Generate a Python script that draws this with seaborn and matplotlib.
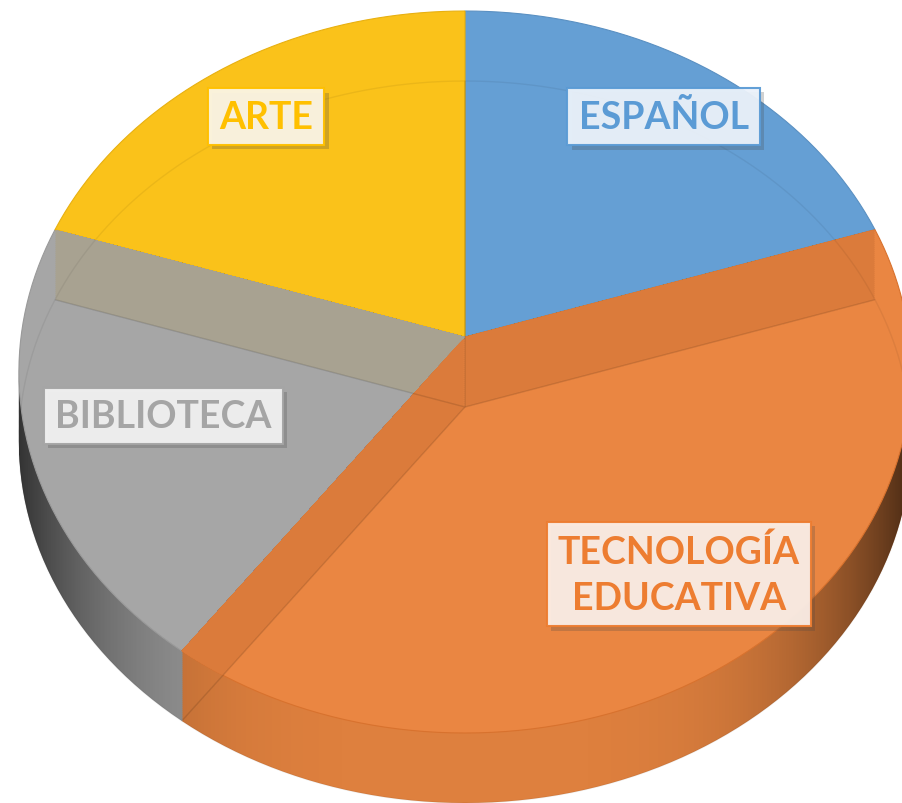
import numpy as np
import matplotlib
matplotlib.use("Agg")
import matplotlib.pyplot as plt
import matplotlib.transforms as mtransforms
import matplotlib.patheffects as pe
from matplotlib.path import Path
import seaborn as sns

# data, clockwise from 12 o'clock
subjects = ["ESPAÑOL", "TECNOLOGÍA\nEDUCATIVA", "BIBLIOTECA", "ARTE"]
shares = [20, 40, 20, 20]

# styling
top_colors = ["#659FD4", "#EA8642", "#A6A6A6", "#FAC21A"]
edge_colors = ["#5A90C2", "#D8722E", "#9A9A9A", "#E8B010"]
side_colors = ["#4F82B5", "#DE803E", "#9C9C9C", "#D8A414"]
text_colors = ["#5B9BD5", "#ED7D31", "#A5A5A5", "#FFC000"]
box_colors = ["#EBF2FA", "#FBEEE6", "#F2F2F2", "#FBF5E6"]
label_radius = [0.81, 0.77, 0.70, 0.81]
orange_band = "#DB7B3B"
gray_band = "#A8A291"

DEPTH = 70
STEP = 2
W, H = 903, 804


class Perspective(mtransforms.Transform):
    """Tilted-disc projection: unit pie coords -> pixel coords (y down)."""
    input_dims = 2
    output_dims = 2
    is_separable = False
    has_inverse = False

    def __init__(self, cx, cy, sx, sy, k):
        super().__init__()
        self.cx, self.cy, self.sx, self.sy, self.k = cx, cy, sx, sy, k

    def transform_non_affine(self, values):
        values = np.asarray(values, dtype=float).reshape(-1, 2)
        u, v = values[:, 0], values[:, 1]
        w = 1 + self.k * v
        return np.column_stack([self.cx + self.sx * u / w,
                                self.cy - self.sy * v / w])

    def transform_path_non_affine(self, path):
        # flatten the bezier arcs first so the rim bends properly
        verts, codes = [], []
        for seg, code in path.iter_bezier():
            if code == Path.MOVETO:
                verts.append(seg.control_points[0])
                codes.append(Path.MOVETO)
            else:
                pts = seg(np.linspace(0, 1, 24)[1:])
                verts.extend(pts)
                codes.extend([Path.LINETO] * len(pts))
        return Path(self.transform_non_affine(np.array(verts)), codes)


sns.set_style("white")
plt.rcParams["font.family"] = ["Lato", "DejaVu Sans"]

fig = plt.figure(figsize=(W / 100, H / 100), dpi=100)
ax = fig.add_axes([0, 0, 1, 1])
persp = Perspective(465, 338, 444, 357.6, 0.097)


def layer(shift, colors, zorder=1, **kw):
    wedges, _ = ax.pie(shares, startangle=90, counterclock=False, radius=1,
                       center=(0, 0), colors=colors,
                       wedgeprops=dict(linewidth=0, **kw))
    tr = persp + mtransforms.Affine2D().translate(0, shift) + ax.transData
    for w in wedges:
        w.set_transform(tr)
        w.set_zorder(zorder)
    return wedges


def outline(wedge, shift=0):
    p = persp.transform_path_non_affine(wedge.get_path())
    return Path(p.vertices + [0, shift], p.codes)


def clip_to(artist, wedge):
    # pie() makes wedges with clip_on=False, so switch it back on
    artist.set_clip_on(True)
    artist.set_clip_path(outline(wedge), ax.transData)


shifts = np.arange(DEPTH, 0, -STEP)

# side walls (only gray and orange are visible)
wall_parts = []
for s in shifts:
    ws = layer(s, side_colors)
    ws[0].set_visible(False)
    ws[3].set_visible(False)
    if s % 10 == 0:
        wall_parts += [outline(ws[1], s), outline(ws[2], s)]

# darker shading toward the left/right ends of the wall
t = np.clip(np.abs(np.arange(W) + 0.5 - 465) / 447, 0, 1)
shade = np.zeros((1, W, 4))
shade[..., 3] = 0.68 * t ** 4
img = ax.imshow(shade, extent=(0, W, H, 0), aspect="auto",
                interpolation="bilinear", zorder=1.5)
img.set_clip_path(Path.make_compound_path(*wall_parts), ax.transData)

# top faces
tops = layer(0, top_colors, zorder=2)
for w, ec in zip(tops, edge_colors):
    w.set_edgecolor(ec)
    w.set_linewidth(0.8)

# far radial walls seen through the translucent tops
for s in shifts:
    ws = layer(s, top_colors, zorder=2)
    ws[1].set_visible(False)
    for idx in (0, 2):
        ws[idx].set_facecolor(orange_band)
        clip_to(ws[idx], tops[1])
    ws[3].set_facecolor(gray_band)
    clip_to(ws[3], tops[2])

# faint bottom rim showing through
for w in layer(DEPTH, top_colors, zorder=2):
    w.set_fill(False)
    w.set_edgecolor((0, 0, 0, 0.06))
    w.set_linewidth(1.0)

# labels
for w, name, r, tc, bc in zip(tops, subjects, label_radius, text_colors, box_colors):
    mid = np.deg2rad((w.theta1 + w.theta2) / 2)
    txt = ax.text(r * np.cos(mid), r * np.sin(mid), name,
                  transform=persp + ax.transData, ha="center", va="center",
                  fontsize=27, fontweight="bold", color=tc, linespacing=1.45,
                  multialignment="center", zorder=4,
                  bbox=dict(boxstyle="square,pad=0.3", fc=bc, ec=tc, lw=1.5,
                            alpha=0.95))
    txt.get_bbox_patch().set_path_effects(
        [pe.withSimplePatchShadow(offset=(3, -3), alpha=0.25)])

ax.set_aspect("auto")
ax.set_xlim(0, W)
ax.set_ylim(H, 0)
ax.axis("off")

fig.savefig("out.png", dpi=100, facecolor="white")
